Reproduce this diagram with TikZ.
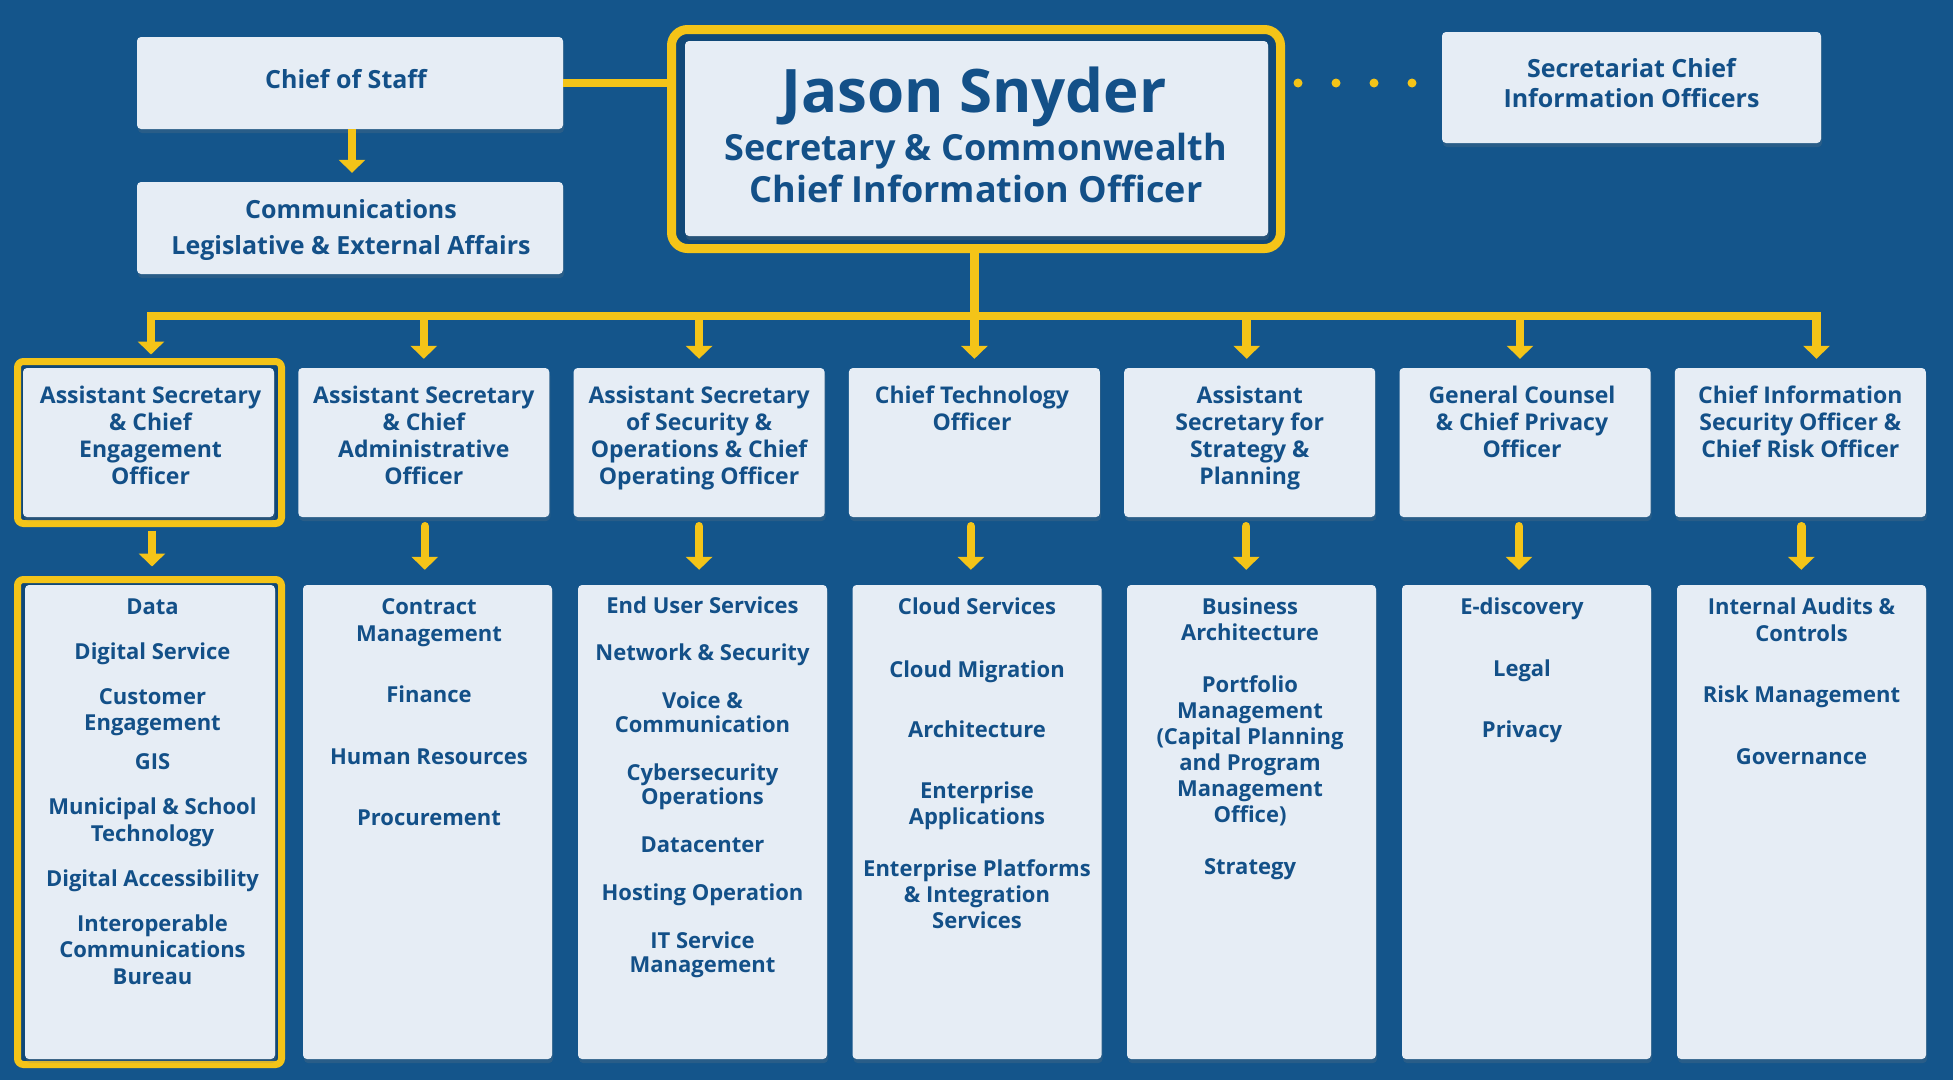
\documentclass[tikz,border=0pt]{standalone}
\usepackage{fontspec}
\setmainfont{Open Sans}
\usetikzlibrary{arrows.meta,shadows,calc}
\definecolor{bgc}{RGB}{20,85,139}
\definecolor{boxc}{RGB}{230,237,245}
\definecolor{txtc}{RGB}{19,80,136}
\definecolor{goldc}{RGB}{244,196,24}
\definecolor{navyc}{RGB}{16,72,120}
\newcommand{\pb}[1]{\parbox[t]{640pt}{\centering #1}}
\begin{document}
\begin{tikzpicture}[x=1pt,y=-1pt,
  box/.style={fill=boxc, rounded corners=4pt, inner sep=0pt, draw=none,
    drop shadow={shadow xshift=1pt, shadow yshift=-4pt, opacity=0.2}},
  frame/.style={draw=goldc, line width=7pt, fill=navyc, rounded corners=6pt, inner sep=0pt},
  conn/.style={draw=goldc, line width=8.5pt},
  arr/.style={conn, -{Triangle[width=26pt,length=13pt]}},
  toplbl/.style={inner sep=0pt, anchor=base, text=txtc, font=\bfseries\fontsize{25pt}{#1pt}\selectfont},
  toplbl/.default=36,
  lbltwo/.style={inner sep=0pt, anchor=base, text=txtc, font=\bfseries\fontsize{23pt}{27.3pt}\selectfont},
  lblthree/.style={inner sep=0pt, anchor=base, text=txtc, font=\bfseries\fontsize{22pt}{#1pt}\selectfont}
]
\fill[bgc] (0,0) rectangle (1953,1080);
\useasboundingbox (0,0) rectangle (1953,1080);

% ---------- top row ----------
\node[box, minimum width=426pt, minimum height=92pt] (cos) at (350,83) {};
\node[box, minimum width=426pt, minimum height=92pt] (comm) at (350,228) {};
\node[box, minimum width=379pt, minimum height=111pt] (secr) at (1631.5,87.5) {};
\node[draw=goldc, line width=9pt, fill=navyc, rounded corners=16pt, inner sep=0pt,
  minimum width=609pt, minimum height=219pt,
  drop shadow={shadow xshift=1pt, shadow yshift=-4pt, opacity=0.2}] (jframe) at (976,139) {};
\node[box, minimum width=583pt, minimum height=195pt] (jason) at (976.5,138.5) {};

\node[toplbl] (cost) at (346,88) {Chief of Staff};
\node[toplbl=36] (commt) at (351,218) {\pb{Communications\\Legislative \& External Affairs}};
\node[toplbl=30] (secrt) at (1631.5,77) {\pb{Secretariat Chief\\Information Officers}};
\node[inner sep=0pt, anchor=base, text=txtc, font=\bfseries\fontsize{60pt}{70pt}\selectfont] (jname) at (974,112) {Jason Snyder};
\node[inner sep=0pt, anchor=base, text=txtc, font=\bfseries\fontsize{36pt}{42pt}\selectfont] (jtitle) at (976,160) {\pb{Secretary \& Commonwealth\\Chief Information Officer}};

% ---------- level 2 ----------
\node[frame, minimum width=264pt, minimum height=162pt] (taf) at (149.5,442.5) {};
\foreach \n/\x in {a/148.5, b/423.8, c/699.1, d/974.4, e/1249.7, f/1525, g/1800.3}
  \node[box, minimum width=251pt, minimum height=149pt] (t\n) at (\x,442.5) {};

\node[lbltwo] (tat) at (150.5,403) {\pb{Assistant Secretary\\\& Chief\\Engagement\\Officer}};
\node[lbltwo] (tbt) at (423.8,403) {\pb{Assistant Secretary\\\& Chief\\Administrative\\Officer}};
\node[lbltwo] (tct) at (699.1,403) {\pb{Assistant Secretary\\of Security \&\\Operations \& Chief\\Operating Officer}};
\node[lbltwo] (tdt) at (972,403) {\pb{Chief Technology\\Officer}};
\node[lbltwo] (tet) at (1249.7,403) {\pb{Assistant\\Secretary for\\Strategy \&\\Planning}};
\node[lbltwo] (tft) at (1522,403) {\pb{General Counsel\\\& Chief Privacy\\Officer}};
\node[lbltwo] (tgt) at (1800.3,403) {\pb{Chief Information\\Security Officer \&\\Chief Risk Officer}};

% ---------- level 3 ----------
\node[frame, minimum width=264pt, minimum height=485pt] (baf) at (149.5,822) {};
\node[box, minimum width=250pt, minimum height=474pt] (ba) at (150,822) {};
\foreach \n/\x in {b/427.5, c/702.5, d/977, e/1251.5, f/1526.5, g/1801.5}
  \node[box, minimum width=249pt, minimum height=474pt] (b\n) at (\x,822) {};

\node[lblthree=26.5] (bat) at (152.5,614) {\pb{Data\\[18.5pt]Digital Service\\[18.5pt]Customer\\Engagement\\[12.5pt]GIS\\[18.5pt]Municipal \& School\\Technology\\[18.5pt]Digital Accessibility\\[18.5pt]Interoperable\\Communications\\Bureau}};
\node[lblthree=27] (bbt) at (429,614) {\pb{Contract\\Management\\[34pt]Finance\\[35pt]Human Resources\\[34pt]Procurement}};
\node[lblthree=24] (bct) at (702.5,613) {\pb{End User Services\\[23pt]Network \& Security\\[24pt]Voice \&\\Communication\\[24pt]Cybersecurity\\Operations\\[24pt]Datacenter\\[24pt]Hosting Operation\\[24pt]IT Service\\Management}};
\node[lblthree=26] (bdt) at (977,614) {\pb{Cloud Services\\[37pt]Cloud Migration\\[34pt]Architecture\\[35pt]Enterprise\\Applications\\[26pt]Enterprise Platforms\\\& Integration\\Services}};
\node[lblthree=26] (bet) at (1250,614) {\pb{Business\\Architecture\\[26pt]Portfolio\\Management\\(Capital Planning\\and Program\\Management\\Office)\\[26pt]Strategy}};
\node[lblthree=26] (bft) at (1522,614) {\pb{E-discovery\\[36pt]Legal\\[35pt]Privacy}};
\node[lblthree=27] (bgt) at (1801.5,614) {\pb{Internal Audits \&\\Controls\\[34pt]Risk Management\\[35pt]Governance}};

% ---------- connectors ----------
\draw[conn] (cos.east) -- (cos.east -| jframe.west);
\draw[arr, shorten >=9pt] ([xshift=2pt]cos.south) -- ([xshift=2pt]comm.north);

\coordinate (d1) at (1298,83);
\coordinate (d4) at (1412.5,83);
\draw[goldc, line width=9pt, line cap=round, dash pattern=on 0pt off 38pt] (d1) -- (d4);

\coordinate (busL) at (151,316);
\coordinate (busR) at (1816.5,316);
\draw[conn] (jframe.south -| td.north) -- (td.north |- busL);
\draw[conn, line cap=rect] (busL) -- (busR);
\draw[arr, shorten >=3.5pt] (busL) -- (busL |- taf.north);
\foreach \n/\s in {b/0,c/0,d/0,e/-3,f/-5}
  \draw[arr, shorten >=9pt] ([xshift=\s pt]t\n.north |- busL) -- ([xshift=\s pt]t\n.north);
\draw[arr, shorten >=9pt] (busR) -- (busR |- tg.north);

\draw[arr, shorten <=3.5pt, shorten >=9.5pt] ([xshift=2.5pt]taf.south) -- ([xshift=2.5pt]taf.south |- baf.north);
\foreach \n/\s in {b/1,c/0,d/-3.5,e/-3.5,f/-6,g/1}
  \draw[arr, line cap=round, shorten <=9pt, shorten >=15pt] ([xshift=\s pt]t\n.south) -- ([xshift=\s pt]t\n.south |- b\n.north);
\end{tikzpicture}
\end{document}
